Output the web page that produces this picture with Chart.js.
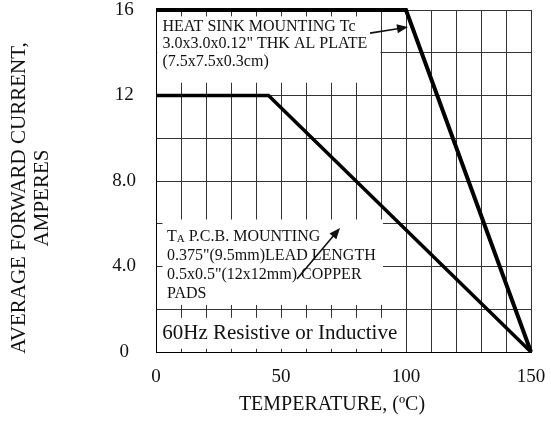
<!DOCTYPE html>
<html>
<head>
<meta charset="utf-8">
<script src="https://cdn.jsdelivr.net/npm/chart.js@4/dist/chart.umd.min.js"></script>
<style>
  body { margin: 0; background: #fff; }
  canvas { display: block; }
</style>
</head>
<body>
<canvas id="derating_graph" width="551" height="434"></canvas>
<script>
// Curve data (temperature in C, current in A)
var heatSinkTemp = [0, 100, 150];
var heatSinkCurrent = [16, 16, 0];
var pcbTemp = [0, 45, 150];
var pcbCurrent = [12, 12, 0];

// Tick labels
var xTickValues = [0, 50, 100, 150];
var xTickLabels = ['0', '50', '100', '150'];
var yTickValues = [0, 4, 8, 12, 16];
var yTickLabels = ['0', '4.0', '8.0', '12', '16'];

// Axis titles and notes
var xTitle = 'TEMPERATURE, (\u00BAC)';
var yTitleLines = ['AVERAGE FORWARD CURRENT,', 'AMPERES'];
var heatSinkNote = ['HEAT SINK MOUNTING Tc', '3.0x3.0x0.12" THK AL PLATE', '(7.5x7.5x0.3cm)'];
var pcbNote = [' P.C.B. MOUNTING', '0.375"(9.5mm)LEAD LENGTH', '0.5x0.5"(12x12mm) COPPER', 'PADS'];
var loadNote = '60Hz Resistive or Inductive';

var serif = '"Liberation Serif", "DejaVu Serif", serif';
var ink = '#111';

function toPoints(xs, ys) {
    return xs.map(function (x, i) { return { x: x, y: ys[i] }; });
}

// White boxes behind the notes, given in data units
var noteBoxes = [
    { x0: 0.5, x1: 89.8, y0: 12.6, y1: 15.7 },
    { x0: 2.6, x1: 90.8, y0: 2.2, y1: 6.2 },
    { x0: 0.5, x1: 99.5, y0: 0.15, y1: 1.6 }
];

function drawArrow(ctx, x1, y1, x2, y2) {
    var ang = Math.atan2(y2 - y1, x2 - x1);
    var len = 11, half = 4.5;
    ctx.beginPath();
    ctx.moveTo(x1, y1);
    ctx.lineTo(x2 - Math.cos(ang) * len * 0.8, y2 - Math.sin(ang) * len * 0.8);
    ctx.lineWidth = 1.6;
    ctx.strokeStyle = ink;
    ctx.stroke();
    ctx.beginPath();
    ctx.moveTo(x2, y2);
    ctx.lineTo(x2 - Math.cos(ang) * len - Math.sin(ang) * half, y2 - Math.sin(ang) * len + Math.cos(ang) * half);
    ctx.lineTo(x2 - Math.cos(ang) * len + Math.sin(ang) * half, y2 - Math.sin(ang) * len - Math.cos(ang) * half);
    ctx.closePath();
    ctx.fillStyle = ink;
    ctx.fill();
}

var notesPlugin = {
    id: 'notes',
    beforeDatasetsDraw: function (chart) {
        var ctx = chart.ctx, xs = chart.scales.x, ys = chart.scales.y;
        ctx.save();
        ctx.fillStyle = '#fff';
        noteBoxes.forEach(function (b) {
            var l = xs.getPixelForValue(b.x0), r = xs.getPixelForValue(b.x1);
            var t = ys.getPixelForValue(b.y1), btm = ys.getPixelForValue(b.y0);
            ctx.fillRect(l, t, r - l, btm - t);
        });
        ctx.restore();
    },
    afterDatasetsDraw: function (chart) {
        var ctx = chart.ctx, xs = chart.scales.x, ys = chart.scales.y;
        ctx.save();
        ctx.fillStyle = ink;
        ctx.textBaseline = 'middle';
        ctx.textAlign = 'left';

        // heat sink note
        ctx.font = '16px ' + serif;
        var hx = xs.getPixelForValue(2.6), hy = ys.getPixelForValue(15.22);
        heatSinkNote.forEach(function (line, i) {
            ctx.fillText(line, hx, hy + i * 17.5);
        });

        // P.C.B. note, first line starts with T and a subscript A
        var px = xs.getPixelForValue(4.4), py = ys.getPixelForValue(5.4);
        ctx.font = '16px ' + serif;
        ctx.fillText('T', px, py);
        var tw = ctx.measureText('T').width;
        ctx.font = '11px ' + serif;
        ctx.fillText('A', px + tw, py + 3);
        var aw = ctx.measureText('A').width;
        ctx.font = '16px ' + serif;
        ctx.fillText(pcbNote[0], px + tw + aw, py);
        for (var i = 1; i < pcbNote.length; i++) {
            ctx.fillText(pcbNote[i], px, py + i * 19);
        }

        // load note
        ctx.font = '21px ' + serif;
        ctx.fillText(loadNote, xs.getPixelForValue(2.5), ys.getPixelForValue(0.88));

        // arrows
        drawArrow(ctx, xs.getPixelForValue(85.6), ys.getPixelForValue(14.92),
                  xs.getPixelForValue(100.8), ys.getPixelForValue(15.2));
        drawArrow(ctx, xs.getPixelForValue(56.4), ys.getPixelForValue(3.42),
                  xs.getPixelForValue(73.6), ys.getPixelForValue(5.8));

        // axis titles
        ctx.textAlign = 'center';
        ctx.font = '20px ' + serif;
        ctx.fillText(xTitle, 332, 405);
        ctx.translate(0, 198);
        ctx.rotate(-Math.PI / 2);
        ctx.font = '21px ' + serif;
        ctx.fillText(yTitleLines[0], 0, 19);
        ctx.fillText(yTitleLines[1], 0, 42);
        ctx.restore();
    }
};

var canvas = document.getElementById('derating_graph').getContext('2d');
var derating_graph = new Chart(canvas, {
    type: 'scatter',
    data: {
        datasets: [{
            label: 'Heat sink mounting',
            data: toPoints(heatSinkTemp, heatSinkCurrent),
            showLine: true,
            borderColor: '#000',
            borderWidth: 4,
            pointRadius: 0,
            clip: false
        },
        {
            label: 'P.C.B. mounting',
            data: toPoints(pcbTemp, pcbCurrent),
            showLine: true,
            borderColor: '#000',
            borderWidth: 3.5,
            pointRadius: 0,
            clip: false
        }]
    },
    options: {
        responsive: false,
        animation: false,
        layout: { padding: { top: 10, right: 20, left: 0, bottom: 0 } },
        plugins: {
            legend: { display: false },
            tooltip: { enabled: false }
        },
        scales: {
            x: {
                type: 'linear',
                min: 0,
                max: 150,
                afterFit: function (scale) {
                    scale.height = 82;
                    scale.paddingLeft = 0;
                    scale.paddingRight = 0;
                },
                grid: { color: '#333', lineWidth: 1, drawTicks: false },
                border: { display: true, color: '#000', width: 1 },
                ticks: {
                    stepSize: 10,
                    autoSkip: false,
                    maxRotation: 0,
                    padding: 16,
                    color: ink,
                    font: { family: serif, size: 19, lineHeight: 1 },
                    callback: function (value) {
                        var idx = xTickValues.indexOf(value);
                        return idx >= 0 ? xTickLabels[idx] : '';
                    }
                }
            },
            y: {
                type: 'linear',
                min: 0,
                max: 16,
                afterFit: function (scale) {
                    scale.width = 156;
                    scale.paddingTop = 0;
                    scale.paddingBottom = 0;
                },
                grid: { color: '#333', lineWidth: 1, drawTicks: false },
                border: { display: true, color: '#000', width: 1 },
                ticks: {
                    stepSize: 2,
                    autoSkip: false,
                    padding: 20,
                    crossAlign: 'center',
                    color: ink,
                    font: { family: serif, size: 19, lineHeight: 1 },
                    callback: function (value) {
                        var idx = yTickValues.indexOf(value);
                        return idx >= 0 ? yTickLabels[idx] : '';
                    }
                }
            }
        }
    },
    plugins: [notesPlugin]
});
</script>
</body>
</html>
